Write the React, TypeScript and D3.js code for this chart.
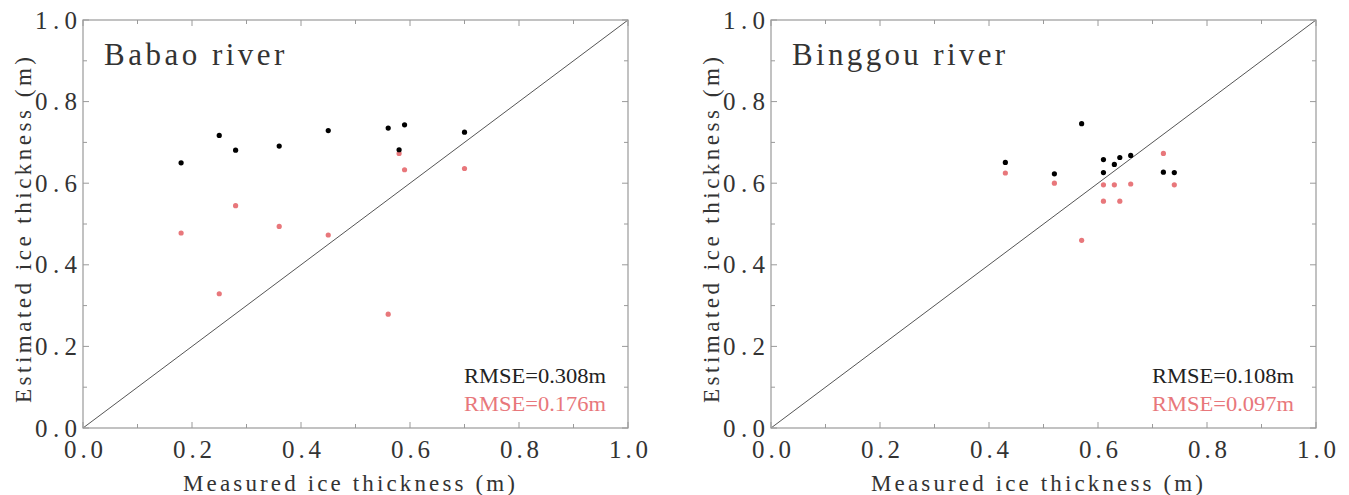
import React from "react";
import * as d3 from "d3";

// Measured vs. estimated river-ice thickness (m) at two sites
const babaoMeasured = [0.18, 0.25, 0.28, 0.36, 0.45, 0.56, 0.58, 0.59, 0.7];
const babaoEstimatedA = [0.65, 0.717, 0.681, 0.691, 0.729, 0.735, 0.682, 0.743, 0.725];
const babaoEstimatedB = [0.478, 0.329, 0.545, 0.494, 0.473, 0.279, 0.673, 0.633, 0.636];

const binggouMeasured = [0.43, 0.52, 0.57, 0.61, 0.61, 0.63, 0.64, 0.66, 0.72, 0.74];
const binggouEstimatedA = [0.651, 0.623, 0.746, 0.658, 0.626, 0.646, 0.663, 0.668, 0.627, 0.626];
const binggouEstimatedB = [0.625, 0.6, 0.46, 0.596, 0.556, 0.596, 0.556, 0.598, 0.673, 0.596];

const siteNames = ["Babao river", "Binggou river"];
const rmseA = ["RMSE=0.308m", "RMSE=0.108m"];
const rmseB = ["RMSE=0.176m", "RMSE=0.097m"];
const majorTicks = [0, 0.2, 0.4, 0.6, 0.8, 1.0];
const minorTicks = [0.1, 0.3, 0.5, 0.7, 0.9];
const xTitle = "Measured ice thickness (m)";
const yTitle = "Estimated ice thickness (m)";

const colorA = "#000000";
const colorB = "#e8777b";
const frameColor = "#9a9a9a";
const font = "'Liberation Serif', 'DejaVu Serif', serif";

type Panel = {
  name: string;
  x: number[];
  a: number[];
  b: number[];
  rmseA: string;
  rmseB: string;
  left: number;
};

const panels: Panel[] = [
  { name: siteNames[0], x: babaoMeasured, a: babaoEstimatedA, b: babaoEstimatedB, rmseA: rmseA[0], rmseB: rmseB[0], left: 83 },
  { name: siteNames[1], x: binggouMeasured, a: binggouEstimatedA, b: binggouEstimatedB, rmseA: rmseA[1], rmseB: rmseB[1], left: 771 },
];

const top = 20;
const plotW = 545;
const plotH = 408;

function ScatterPanel({ p }: { p: Panel }) {
  const xs = d3.scaleLinear().domain([0, 1]).range([p.left, p.left + plotW]);
  const ys = d3.scaleLinear().domain([0, 1]).range([top + plotH, top]);
  const x0 = xs(0), x1 = xs(1), y0 = ys(0), y1 = ys(1);
  const majorLen = 6;
  const minorLen = 4;
  const tickLines: JSX.Element[] = [];
  const addTicks = (vals: number[], len: number, key: string) => {
    vals.forEach((v, i) => {
      const xv = xs(v);
      const yv = ys(v);
      tickLines.push(
        <line key={`${key}b${i}`} x1={xv} x2={xv} y1={y0} y2={y0 - len} />,
        <line key={`${key}t${i}`} x1={xv} x2={xv} y1={y1} y2={y1 + len} />,
        <line key={`${key}l${i}`} x1={x0} x2={x0 + len} y1={yv} y2={yv} />,
        <line key={`${key}r${i}`} x1={x1} x2={x1 - len} y1={yv} y2={yv} />
      );
    });
  };
  addTicks(majorTicks, majorLen, "M");
  addTicks(minorTicks, minorLen, "m");
  const fmt = d3.format(".1f");
  const line = d3.line<number>().x((d) => xs(d)).y((d) => ys(d));

  return (
    <g>
      <path d={line([0, 1]) || ""} stroke="#555" strokeWidth={1} fill="none" />
      <g stroke={frameColor} strokeWidth={1}>{tickLines}</g>
      <rect x={x0} y={y1} width={x1 - x0} height={y0 - y1} fill="none" stroke={frameColor} strokeWidth={1.2} />

      {p.x.map((v, i) => (
        <circle key={`b${i}`} cx={xs(v)} cy={ys(p.b[i])} r={2.6} fill={colorB} />
      ))}
      {p.x.map((v, i) => (
        <circle key={`a${i}`} cx={xs(v)} cy={ys(p.a[i])} r={2.6} fill={colorA} />
      ))}

      <g fontFamily={font} fontSize={25} fill="#333">
        {majorTicks.map((v) => (
          <text key={`yl${v}`} x={x0 - 6} y={ys(v) + 8.5} textAnchor="end" textLength={42} lengthAdjust="spacing">
            {fmt(v)}
          </text>
        ))}
        {majorTicks.map((v) => (
          <text key={`xl${v}`} x={xs(v) - 19} y={458} textLength={39} lengthAdjust="spacing">
            {fmt(v)}
          </text>
        ))}
      </g>

      <text x={x0 + 21} y={65} fontFamily={font} fontSize={31} fill="#333"
        textLength={p.name.length * 16.4} lengthAdjust="spacing">
        {p.name}
      </text>

      <g fontFamily={font} fontSize={21}>
        <text x={x1 - 164} y={383} fill="#222" textLength={142} lengthAdjust="spacingAndGlyphs">{p.rmseA}</text>
        <text x={x1 - 164} y={411} fill={colorB} textLength={142} lengthAdjust="spacingAndGlyphs">{p.rmseB}</text>
      </g>

      <text x={x0 + 100} y={491} fontFamily={font} fontSize={23} fill="#333"
        textLength={332} lengthAdjust="spacing">
        {xTitle}
      </text>
      <text transform={`translate(${x0 - 52},${403}) rotate(-90)`} fontFamily={font} fontSize={23} fill="#333"
        textLength={346} lengthAdjust="spacing">
        {yTitle}
      </text>
    </g>
  );
}

export default function App() {
  return (
    <svg width={1349} height={495} style={{ position: "absolute", left: 0, top: 0, background: "#fff" }}>
      {panels.map((p) => (
        <ScatterPanel key={p.name} p={p} />
      ))}
    </svg>
  );
}
